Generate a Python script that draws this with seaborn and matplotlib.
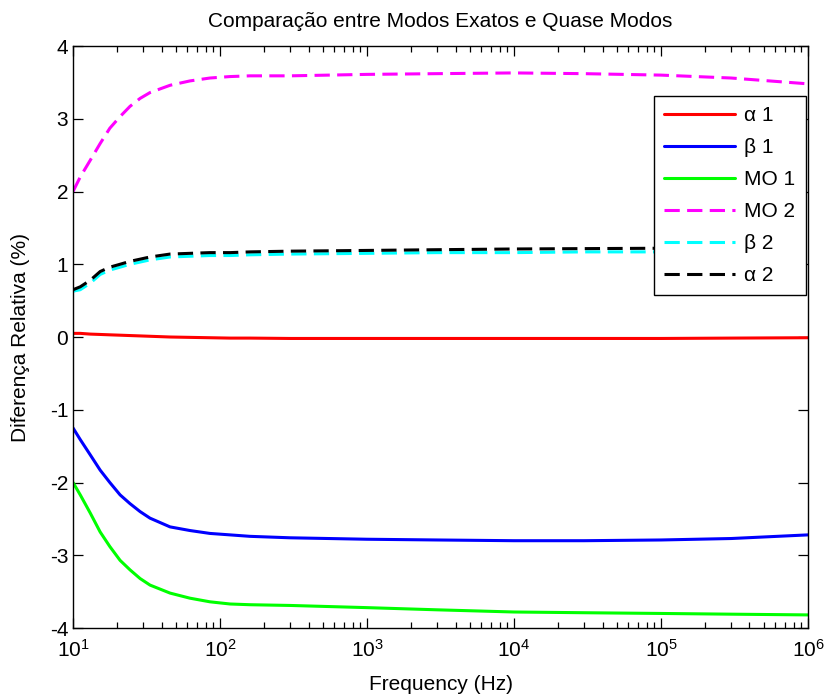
import numpy as np
import pandas as pd
import matplotlib
matplotlib.use("Agg")
import matplotlib.pyplot as plt
import seaborn as sns

# Frequency samples (Hz) and relative differences (%) for each mode
freq = [10, 11.2, 13.1, 15.3, 17.8, 20.9, 24.4, 28.6, 33.4, 45.7, 62.4, 85.4,
        117, 160, 300, 1e3, 3e3, 1e4, 3e4, 1e5, 3e5, 1e6]
alpha1 = [0.05, 0.05, 0.04, 0.035, 0.03, 0.025, 0.02, 0.015, 0.01, 0.0, -0.005,
          -0.01, -0.015, -0.015, -0.02, -0.02, -0.02, -0.02, -0.02, -0.02, -0.015, -0.01]
beta1 = [-1.25, -1.41, -1.62, -1.83, -2.00, -2.17, -2.29, -2.40, -2.49, -2.61,
         -2.66, -2.70, -2.72, -2.74, -2.76, -2.78, -2.79, -2.80, -2.80, -2.79,
         -2.77, -2.72]
mo1 = [-2.0, -2.17, -2.42, -2.68, -2.88, -3.07, -3.20, -3.32, -3.41, -3.52,
       -3.59, -3.64, -3.67, -3.68, -3.69, -3.72, -3.75, -3.78, -3.79, -3.80,
       -3.81, -3.82]
mo2 = [2.0, 2.20, 2.43, 2.66, 2.87, 3.03, 3.17, 3.28, 3.36, 3.46, 3.52, 3.56,
       3.58, 3.59, 3.59, 3.61, 3.62, 3.63, 3.62, 3.60, 3.56, 3.48]
beta2 = [0.63, 0.65, 0.74, 0.86, 0.92, 0.96, 1.00, 1.03, 1.06, 1.10, 1.11, 1.12,
         1.12, 1.13, 1.14, 1.15, 1.16, 1.16, 1.17, 1.17, 1.17, 1.17]
alpha2 = [0.65, 0.69, 0.78, 0.90, 0.96, 1.00, 1.04, 1.07, 1.10, 1.14, 1.15, 1.16,
          1.16, 1.17, 1.18, 1.19, 1.20, 1.21, 1.215, 1.22, 1.225, 1.23]

labels = ["α 1", "β 1", "MO 1", "MO 2", "β 2", "α 2"]
series = [alpha1, beta1, mo1, mo2, beta2, alpha2]
colors = ["#ff0000", "#0000ff", "#00ff00", "#ff00ff", "#00ffff", "#000000"]
dashed = [False, False, False, True, True, True]

sns.set_style("ticks")
plt.rcParams["font.family"] = ["Liberation Sans", "DejaVu Sans"]
plt.rcParams["axes.unicode_minus"] = False
plt.rcParams["text.color"] = "black"
plt.rcParams["axes.labelcolor"] = "black"
plt.rcParams["xtick.color"] = "black"
plt.rcParams["ytick.color"] = "black"
plt.rcParams["mathtext.fontset"] = "custom"
plt.rcParams["mathtext.rm"] = "Liberation Sans"

fig = plt.figure(figsize=(8.26, 6.95), dpi=100)
ax = fig.add_axes([0.0884, 0.0964, 0.8898, 0.8374])

for lab, vals, col, dsh in zip(labels, series, colors, dashed):
    df = pd.DataFrame({"f": freq, "v": vals})
    sns.lineplot(data=df, x="f", y="v", ax=ax, color=col, linewidth=2.2, label=lab)
    if dsh:
        ax.lines[-1].set_dashes((5.0, 2.4))

ax.set_xscale("log")
ax.set_xlim(10, 1e6)
ax.set_ylim(-4, 4)
ax.set_yticks(range(-4, 5))
ax.set_title("Comparação entre Modos Exatos e Quase Modos", fontsize=15, pad=14)
ax.set_xlabel("Frequency (Hz)", fontsize=15, labelpad=10)
ax.set_ylabel("Diferença Relativa (%)", fontsize=15, labelpad=14)

ax.tick_params(which="both", direction="in", top=True, right=True, labelsize=15,
               width=0.9, color="black")
ax.tick_params(which="major", length=7)
ax.tick_params(which="minor", length=4)
ax.tick_params(axis="x", which="major", pad=8)
for s in ax.spines.values():
    s.set_color("black")
    s.set_linewidth(1.0)

leg = ax.legend(loc="upper right", bbox_to_anchor=(0.997, 0.914), borderaxespad=0,
                fontsize=15, frameon=True, fancybox=False, framealpha=1,
                edgecolor="black", handlelength=3.4, handletextpad=0.45,
                borderpad=0.5, labelspacing=0.62)
leg.get_frame().set_linewidth(1.0)

fig.savefig("out.png", dpi=100)
